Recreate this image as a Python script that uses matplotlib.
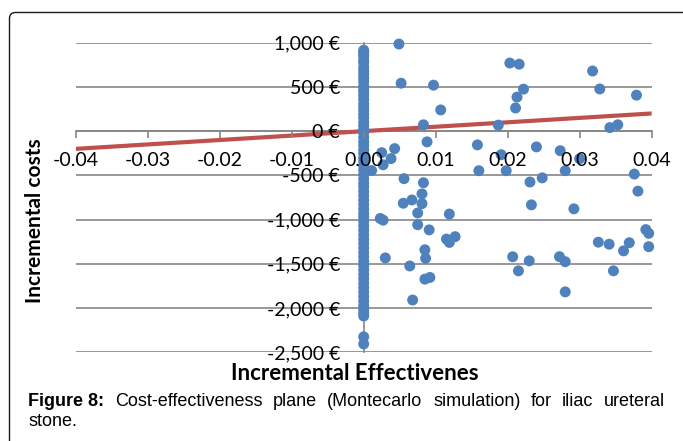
import numpy as np
import matplotlib.pyplot as plt
from matplotlib.patches import FancyBboxPatch
from matplotlib.transforms import IdentityTransform

# column of simulations with zero incremental effectiveness
zero_costs = [915, 895, 870, 845, 800, 770, 720, 680, 640, 600, 560, 510, 470, 440,
              400, 360, 310, 270, 230, 190, 150, 100, 60, 20, -20, -70, -120, -160,
              -210, -250, -300, -340, -390, -440, -490, -540, -590, -630, -680, -730,
              -780, -830, -880, -930, -970, -1020, -1070, -1120, -1170, -1220, -1270,
              -1320, -1370, -1420, -1470, -1520, -1570, -1620, -1670, -1720, -1770,
              -1820, -1870, -1920, -1970, -2020, -2060, -2090, -2325, -2405]

# remaining simulations
eff = [0.0049, 0.0052, 0.0097, 0.0107, 0.0083, 0.0088, 0.0043, 0.0025, 0.0038, 0.0027,
       0.0011, 0.0056, 0.0083, 0.0081, 0.0067, 0.0055, 0.0081, 0.0075, 0.0023, 0.0027,
       0.0119, 0.0075, 0.0091, 0.0115, 0.0119, 0.0127, 0.0085, 0.0086, 0.0030, 0.0064,
       0.0085, 0.0092, 0.0068, 0.0158, 0.0187, 0.0191, 0.0160, 0.0198, 0.0203, 0.0216,
       0.0222, 0.0213, 0.0211, 0.0240, 0.0231, 0.0248, 0.0233, 0.0207, 0.0230, 0.0215,
       0.0273, 0.0280, 0.0300, 0.0292, 0.0272, 0.0280, 0.0280, 0.0318, 0.0328, 0.0379,
       0.0342, 0.0353, 0.0376, 0.0381, 0.0326, 0.0341, 0.0369, 0.0361, 0.0347, 0.0392,
       0.0396, 0.0396]
cost = [985, 542, 520, 240, 72, -121, -197, -243, -310, -380,
        -445, -537, -583, -709, -778, -815, -819, -925, -987, -1006,
        -937, -1058, -1116, -1220, -1258, -1193, -1341, -1437, -1433, -1524,
        -1673, -1654, -1909, -155, 68, -266, -447, -447, 770, 757,
        475, 385, 262, -178, -575, -528, -833, -1420, -1466, -1579,
        -221, -447, -311, -878, -1419, -1476, -1817, 680, 477, 407,
        40, 72, -485, -678, -1255, -1278, -1261, -1353, -1579, -1113,
        -1155, -1306]

wtp_x = [-0.04, 0.04]
wtp_y = [-200, 200]

xticks = [-0.04, -0.03, -0.02, -0.01, 0.0, 0.01, 0.02, 0.03, 0.04]
yticks = [-2500, -2000, -1500, -1000, -500, 0, 500, 1000]

blue = '#4F81BD'
red = '#C0504D'
grey = '#868686'
font = ['Lato', 'DejaVu Sans']

fig = plt.figure(figsize=(6.83, 4.41), dpi=100)
ax = fig.add_axes([75.8 / 683, 1 - 352.3 / 441, 575.8 / 683, 309.6 / 441])
ax.set_xlim(-0.04, 0.04)
ax.set_ylim(-2500, 1000)

for y in yticks:
    ax.axhline(y, color=grey, lw=1.2, zorder=0.5)

ax.plot(wtp_x, wtp_y, color=red, lw=3, zorder=1.5, solid_capstyle='butt')
ax.scatter(np.zeros(len(zero_costs)), zero_costs, s=62, color=blue, edgecolors='none',
           zorder=2, clip_on=False)
ax.scatter(eff, cost, s=62, color=blue, edgecolors='none', zorder=2, clip_on=False)

ax.spines['top'].set_visible(False)
ax.spines['right'].set_visible(False)
ax.spines['bottom'].set_position(('data', 0))
ax.spines['left'].set_position(('data', 0))
for sp in ('bottom', 'left'):
    ax.spines[sp].set_color(grey)
    ax.spines[sp].set_linewidth(1.2)
    ax.spines[sp].set_zorder(1)
ax.set_axisbelow(False)

ax.set_xticks(xticks)
ax.set_xticklabels(['%.2f' % v if v != 0 else '0.00' for v in xticks],
                   family=font, fontsize=14)
ax.set_yticks(yticks)
ax.set_yticklabels(['{:,} €'.format(v) for v in yticks], family=font, fontsize=14)
ax.tick_params(axis='x', direction='out', length=5, width=1.2, color=grey, pad=10)
ax.tick_params(axis='y', length=0, pad=17)

fig.text(355 / 683, 1 - 379.5 / 441, 'Incremental Effectivenes', ha='center',
         va='baseline', family=font, fontsize=16, fontweight='bold')
fig.text(35 / 683, 1 - 221 / 441, 'Incremental costs', ha='center', va='center',
         rotation=90, family=font, fontsize=15, fontweight='bold')

# rounded frame
fig.add_artist(FancyBboxPatch((9.5, -30), 720, 441 - 12.5 + 30,
                              boxstyle='round,pad=0,rounding_size=6',
                              transform=IdentityTransform(), fill=False,
                              ec='#1a1a1a', lw=1.0))

# justified caption
cap_font = ['Liberation Sans', 'DejaVu Sans']
cap_size = 13
base1 = 1 - 405.7 / 441
x0, x1 = 28.5, 665.0
renderer = fig.canvas.get_renderer()
words = ['Figure 8:', 'Cost-effectiveness', 'plane', '(Montecarlo', 'simulation)',
         'for', 'iliac', 'ureteral']
texts = []
for i, w in enumerate(words):
    t = fig.text(0, base1, w, family=cap_font, fontsize=cap_size, va='baseline',
                 fontweight='bold' if i == 0 else 'normal')
    texts.append(t)
widths = [t.get_window_extent(renderer).width for t in texts]
gap = (x1 - x0 - sum(widths)) / (len(words) - 1)
pos = x0
for t, w in zip(texts, widths):
    t.set_x(pos / 683)
    pos += w + gap
fig.text(x0 / 683, 1 - 425.5 / 441, 'stone.', family=cap_font, fontsize=cap_size,
         va='baseline')

fig.savefig('out.png', dpi=100)
